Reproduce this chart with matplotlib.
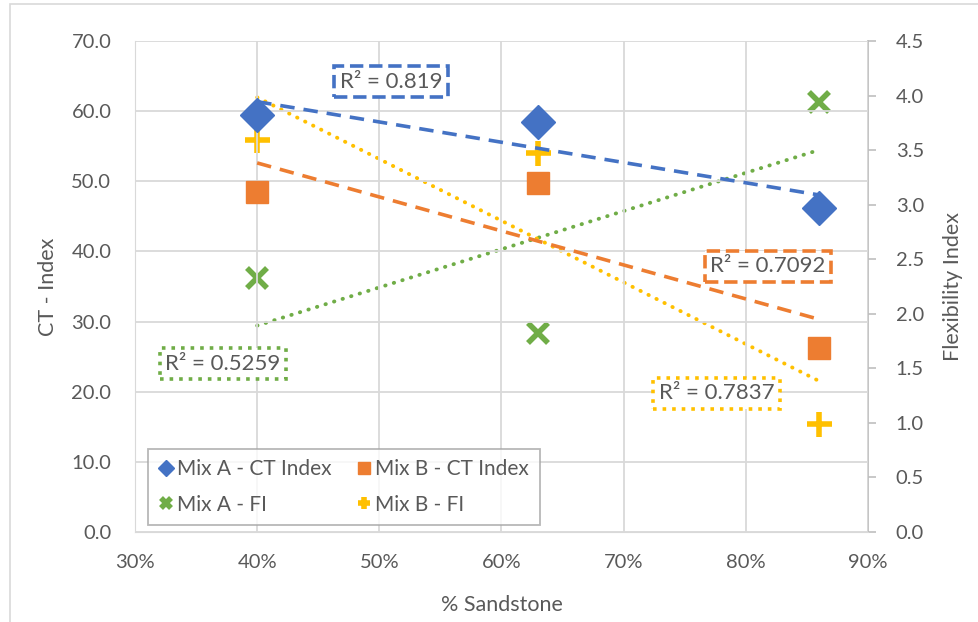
import numpy as np
import matplotlib
matplotlib.use("Agg")
import matplotlib.pyplot as plt
from matplotlib.patches import Rectangle

# data
sandstone = [40, 63, 86]                 # % sandstone
mixA_ct = [59.5, 58.4, 46.2]
mixB_ct = [48.5, 49.7, 26.2]
mixA_fi = [2.33, 1.82, 3.94]
mixB_fi = [3.59, 3.47, 0.99]

x_ticks = [30, 40, 50, 60, 70, 80, 90]
x_ticklabels = ["30%", "40%", "50%", "60%", "70%", "80%", "90%"]
ct_ticks = [0, 10, 20, 30, 40, 50, 60, 70]
fi_ticks = [0, 0.5, 1.0, 1.5, 2.0, 2.5, 3.0, 3.5, 4.0, 4.5]
r2_labels = ["R² = 0.819", "R² = 0.7092", "R² = 0.5259", "R² = 0.7837"]

blue, orange, green, yellow = "#4472C4", "#ED7D31", "#70AD47", "#FFC000"
txt = "#595959"
grid = "#D9D9D9"

plt.rcParams['font.family'] = ['Lato', 'DejaVu Sans']

fig = plt.figure(figsize=(9.79, 6.22), dpi=100)
# outer chart border
fig.patches.append(Rectangle((10/979, -0.01), 1.0, 1 - 4/622 + 0.01, transform=fig.transFigure,
                             fill=False, edgecolor=grid, linewidth=1.2))
ax = fig.add_axes([135/979, 90/622, 733/979, 491/622])
ax2 = ax.twinx()

ax.set_xlim(30, 90)
ax.set_ylim(0, 70)
ax2.set_ylim(0, 4.5)

ax.set_xticks(x_ticks)
ax.set_xticklabels(x_ticklabels)
ax.set_yticks(ct_ticks)
ax.set_yticklabels(["%.1f" % v for v in ct_ticks])
ax2.set_yticks(fi_ticks)
ax2.set_yticklabels(["%.1f" % v for v in fi_ticks])

ax.grid(True, color=grid, linewidth=1.3)
ax.set_axisbelow(True)
for s in ["top", "right"]:
    ax.spines[s].set_visible(False)
    ax2.spines[s].set_visible(False)
ax.spines["left"].set_color(grid)
ax.spines["bottom"].set_color(grid)
ax2.spines["left"].set_visible(False)
ax2.spines["bottom"].set_visible(False)
ax2.spines["right"].set_visible(True)
ax2.spines["right"].set_color("#BFBFBF")
ax2.spines["right"].set_linewidth(1.3)

ax.tick_params(axis="y", length=0, labelsize=14.5, labelcolor=txt, pad=17)
ax.tick_params(axis="x", length=0, labelsize=14.5, labelcolor=txt, pad=16)
ax2.tick_params(axis="y", length=6, width=1.2, color="#BFBFBF", labelsize=14.5, labelcolor=txt, pad=14)

ax.set_xlabel("% Sandstone", fontsize=15.5, color=txt, labelpad=17)
ax.set_ylabel("CT - Index", fontsize=15.5, color=txt, labelpad=10)
ax2.set_ylabel("Flexibility Index", fontsize=15.5, color=txt, labelpad=14)

# trendlines
xs = np.array(sandstone, dtype=float)
def trend(axis, y, color, ls, lw):
    k, b = np.polyfit(xs, y, 1)
    axis.plot([xs[0], xs[-1]], [k * xs[0] + b, k * xs[-1] + b], color=color,
              linestyle=ls, linewidth=lw, zorder=2)

trend(ax, mixA_ct, blue, (0, (4, 2.5)), 2.6)
trend(ax, mixB_ct, orange, (0, (4, 2.5)), 2.6)
trend(ax2, mixA_fi, green, (0, (0.1, 2.2)), 2.8)
trend(ax2, mixB_fi, yellow, (0, (0.1, 2.2)), 2.8)
for l in ax2.lines:
    l.set_dash_capstyle("round")

# points
h1, = ax.plot(sandstone, mixA_ct, "D", color=blue, ms=17, linestyle="none", zorder=3, label="Mix A - CT Index")
h2, = ax.plot(sandstone, mixB_ct, "s", color=orange, ms=16, linestyle="none", zorder=3, label="Mix B - CT Index")
h3, = ax2.plot(sandstone, mixA_fi, "x", color=green, ms=15, mew=4, linestyle="none", zorder=3, label="Mix A - FI")
h4, = ax2.plot(sandstone, mixB_fi, "+", color=yellow, ms=18, mew=4, linestyle="none", zorder=3, label="Mix B - FI")

# R² labels
r2_pos = [(50.95, 64.2), (81.8, 37.9), (37.2, 24.0), (77.6, 19.8)]
r2_col = [blue, orange, green, yellow]
r2_ls = ["dashed", "dashed", "dotted", "dotted"]
for lab, (px, py), c, ls in zip(r2_labels, r2_pos, r2_col, r2_ls):
    ax.text(px, py, lab, fontsize=16, color=txt, ha="center", va="center", zorder=5,
            bbox=dict(boxstyle="square,pad=0.25", facecolor="white", edgecolor=c,
                      linewidth=2.6, linestyle=ls))

# row-wise order like the original legend
leg = ax.legend(handles=[h1, h3, h2, h4], ncol=2, loc="lower left",
                bbox_to_anchor=(13/733, 7/491), borderaxespad=0, fontsize=15,
                frameon=True, fancybox=False,
                markerscale=0.5, handlelength=0.7, handletextpad=0.2, columnspacing=1.2,
                labelspacing=0.75, borderpad=0.5, edgecolor="#A6A6A6")
for t in leg.get_texts():
    t.set_color(txt)
leg.get_frame().set_linewidth(1.3)
leg.set_zorder(10)
ax.set_zorder(ax2.get_zorder() + 1)
ax.patch.set_visible(False)

fig.savefig("out.png", dpi=100)
